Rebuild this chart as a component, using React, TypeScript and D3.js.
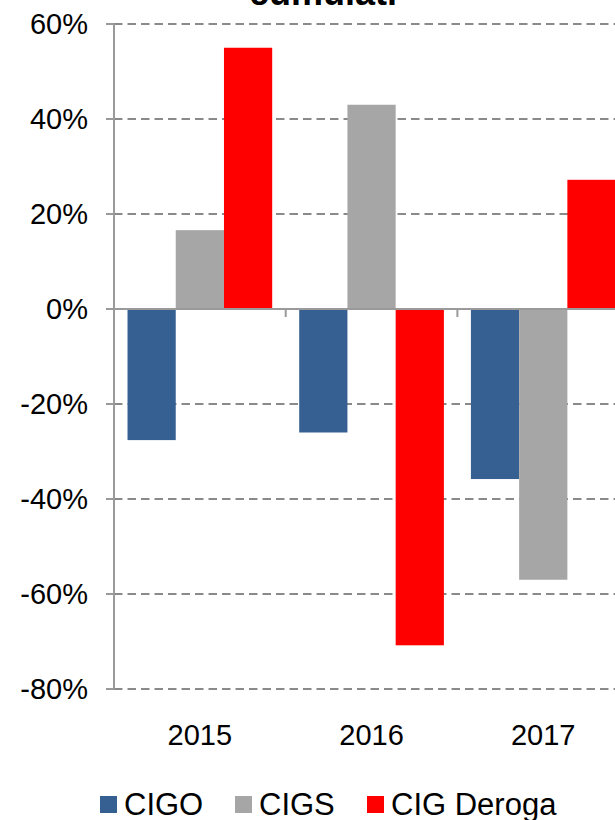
import React from "react";
import * as d3 from "d3";

// Categories, series and values (fractions of 1)
const years = ["2015", "2016", "2017"];
const seriesNames = ["CIGO", "CIGS", "CIG Deroga"];
const seriesColors = ["#376092", "#A6A6A6", "#FF0000"];
const cigo = [-0.276, -0.26, -0.358];
const cigs = [0.166, 0.43, -0.57];
const cigDeroga = [0.55, -0.708, 0.272];
const yTicks = [0.6, 0.4, 0.2, 0, -0.2, -0.4, -0.6, -0.8];
const titleText = "cumulati";

const seriesValues = [cigo, cigs, cigDeroga];

const W = 615;
const H = 820;
const FONT = "'Liberation Sans', Arial, sans-serif";

// percent labels with a plain hyphen for negatives
const pct = (t: number) => d3.format(".0%")(t).replace("\u2212", "-");

export default function App() {
  const left = 114;
  const step = 171.7;
  const x = d3
    .scaleBand<string>()
    .domain(years)
    .range([left, left + step * years.length])
    .paddingInner(0)
    .paddingOuter(0);
  const xs = d3
    .scaleBand<string>()
    .domain(seriesNames)
    .range([0, x.bandwidth()])
    .paddingInner(0)
    .paddingOuter(0.28);
  const y = d3.scaleLinear().domain([-0.8, 0.6]).range([689, 24]);

  const legendX = [100, 235, 367];

  return (
    <svg
      width={W}
      height={H}
      style={{ position: "absolute", left: 0, top: 0, overflow: "hidden" }}
      fontFamily={FONT}
    >
      <rect width={W} height={H} fill="#fff" />
      <text x={323} y={5} textAnchor="middle" fontSize={36} fontWeight="bold" fill="#000">
        {titleText}
      </text>

      {/* gridlines */}
      {yTicks
        .filter((t) => t !== 0)
        .map((t) => (
          <line
            key={"g" + t}
            x1={left}
            x2={W}
            y1={y(t)}
            y2={y(t)}
            stroke="#8a8a8a"
            strokeWidth={2}
            strokeDasharray="8.5,5"
          />
        ))}

      {/* bars */}
      {years.map((yr, i) =>
        seriesNames.map((s, j) => {
          const v = seriesValues[j][i];
          const x0 = (x(yr) as number) + (xs(s) as number);
          return (
            <rect
              key={yr + s}
              x={x0}
              width={xs.bandwidth()}
              y={Math.min(y(v), y(0))}
              height={Math.abs(y(v) - y(0))}
              fill={seriesColors[j]}
            />
          );
        })
      )}

      {/* y axis */}
      <line x1={left} x2={left} y1={y(0.6)} y2={y(-0.8)} stroke="#9a9a9a" strokeWidth={2} />
      {yTicks.map((t) => (
        <g key={"t" + t}>
          <line x1={left - 8} x2={left} y1={y(t)} y2={y(t)} stroke="#9a9a9a" strokeWidth={2} />
          <text
            x={88}
            y={y(t)}
            dy="0.36em"
            textAnchor="end"
            fontSize={29}
            fill="#000"
          >
            {pct(t)}
          </text>
        </g>
      ))}

      {/* x axis at zero */}
      <line x1={left} x2={W} y1={y(0)} y2={y(0)} stroke="#9a9a9a" strokeWidth={2} />
      {years.map((yr) => (
        <line
          key={"xt" + yr}
          x1={x(yr) as number}
          x2={x(yr) as number}
          y1={y(0)}
          y2={y(0) + 8}
          stroke="#9a9a9a"
          strokeWidth={2}
        />
      ))}
      {years.map((yr) => (
        <text
          key={"xl" + yr}
          x={(x(yr) as number) + x.bandwidth() / 2}
          y={745}
          textAnchor="middle"
          fontSize={29}
          fill="#000"
        >
          {yr}
        </text>
      ))}

      {/* legend */}
      {seriesNames.map((s, j) => (
        <g key={"l" + s}>
          <rect x={legendX[j]} y={796} width={17} height={17} fill={seriesColors[j]} />
          <text x={legendX[j] + 24} y={815} fontSize={31} fill="#000">
            {s}
          </text>
        </g>
      ))}
    </svg>
  );
}
